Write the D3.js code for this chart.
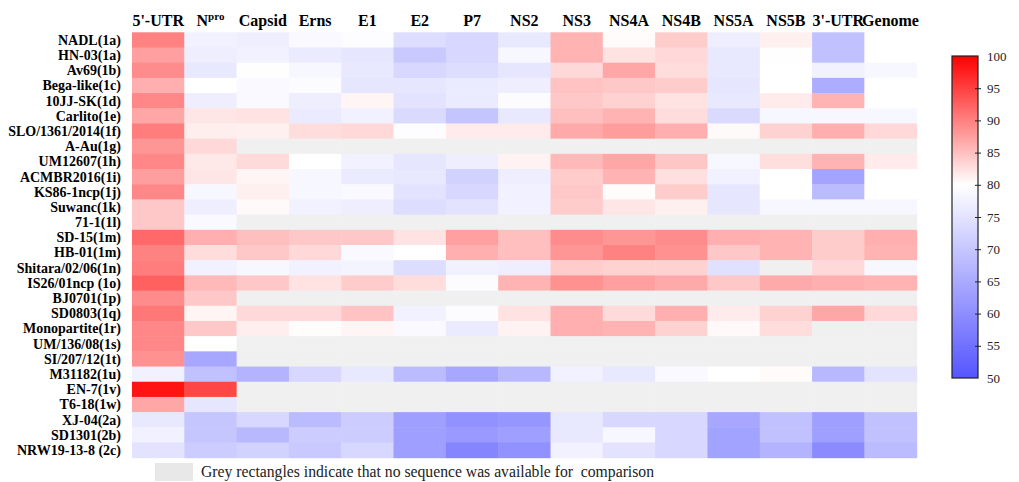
<!DOCTYPE html>
<html>
<head>
<meta charset="utf-8">
<script src="https://cdn.jsdelivr.net/npm/d3@7"></script>
<style>
  body { margin: 0; background: #fff; }
  text { font-family: "Liberation Serif", "Times New Roman", serif; }
</style>
</head>
<body>
<div id="chart"></div>
<script>
var columns = ["5'-UTR", "Npro", "Capsid", "Erns", "E1", "E2", "P7", "NS2", "NS3", "NS4A", "NS4B", "NS5A", "NS5B", "3'-UTR", "Genome"];

var strains = ["NADL(1a)", "HN-03(1a)", "Av69(1b)", "Bega-like(1c)", "10JJ-SK(1d)", "Carlito(1e)",
    "SLO/1361/2014(1f)", "A-Au(1g)", "UM12607(1h)", "ACMBR2016(1i)", "KS86-1ncp(1j)", "Suwanc(1k)",
    "71-1(1l)", "SD-15(1m)", "HB-01(1m)", "Shitara/02/06(1n)", "IS26/01ncp (1o)", "BJ0701(1p)",
    "SD0803(1q)", "Monopartite(1r)", "UM/136/08(1s)", "SI/207/12(1t)", "M31182(1u)", "EN-7(1v)",
    "T6-18(1w)", "XJ-04(2a)", "SD1301(2b)", "NRW19-13-8 (2c)"];

// identity (%) per strain, in column order; null = no sequence available
var values = [
    [89.8, 77.5, 77.0, 79.0, 79.5, 74.0, 73.0, 76.0, 86.0, 80.3, 84.0, 77.0, 81.2, 69.0, 80.0],
    [87.5, 77.0, 77.5, 76.5, 75.5, 70.5, 73.0, 78.5, 86.0, 82.3, 83.0, 76.0, 80.1, 69.0, 80.0],
    [89.0, 76.0, 79.8, 78.5, 76.0, 73.0, 74.0, 75.5, 83.0, 87.0, 82.7, 76.0, 80.0, 77.5, 78.5],
    [86.3, 80.0, 79.0, 79.5, 75.5, 75.5, 76.5, 77.0, 84.7, 84.3, 84.0, 75.5, 80.0, 65.5, 80.0],
    [89.4, 77.0, 79.0, 77.0, 80.8, 75.0, 76.5, 79.5, 84.3, 83.5, 82.3, 76.0, 81.6, 86.0, 80.0],
    [87.0, 82.0, 82.3, 76.5, 77.5, 73.5, 69.5, 76.0, 85.0, 86.0, 82.7, 73.5, 78.5, 78.5, 78.5],
    [90.2, 81.3, 81.2, 82.7, 83.0, 79.6, 81.6, 81.6, 86.7, 87.8, 86.3, 80.4, 83.5, 86.3, 83.0],
    [88.2, 83.0, null, null, null, null, null, null, null, null, null, null, null, null, null],
    [89.4, 81.8, 82.9, 80.0, 77.5, 75.5, 77.0, 81.0, 85.5, 87.0, 84.5, 78.5, 82.6, 86.0, 81.6],
    [87.6, 82.0, 80.8, 78.5, 76.5, 76.0, 72.0, 77.0, 84.0, 86.0, 82.5, 77.5, 80.0, 64.0, 80.0],
    [89.4, 78.5, 81.2, 78.5, 79.0, 75.0, 73.0, 77.5, 84.3, 80.2, 84.0, 75.5, 80.0, 68.0, 80.0],
    [84.3, 77.0, 80.5, 77.5, 77.0, 74.0, 75.0, 77.5, 84.0, 82.0, 81.2, 75.5, 78.5, 78.5, 78.5],
    [84.3, 79.0, null, null, null, null, null, null, null, null, null, null, null, null, null],
    [91.8, 86.3, 85.0, 84.3, 84.3, 82.3, 87.5, 85.0, 89.0, 88.2, 89.0, 86.3, 86.0, 84.0, 86.3],
    [89.8, 82.7, 84.3, 83.0, 79.0, 80.0, 86.3, 85.0, 88.2, 89.8, 88.6, 84.3, 86.0, 84.0, 86.0],
    [90.2, 77.5, 78.5, 77.5, 78.0, 74.0, 77.5, 77.0, 84.0, 83.5, 83.5, 74.5, null, 83.0, 78.5],
    [92.5, 85.5, 84.3, 82.3, 84.0, 82.7, 79.5, 86.0, 88.6, 87.5, 86.7, 84.3, 86.7, 86.3, 86.0],
    [89.0, 84.3, null, null, null, null, null, null, null, null, null, null, null, null, null],
    [90.6, 80.8, 83.0, 83.0, 84.7, 77.5, 79.5, 82.3, 86.3, 82.9, 86.3, 81.6, 83.5, 87.0, 83.0],
    [89.4, 84.3, 81.3, 80.2, 80.8, 79.0, 76.5, 81.0, 86.3, 86.0, 83.5, 80.5, 82.7, null, null],
    [89.4, 80.0, null, null, null, null, null, null, null, null, null, null, null, null, null],
    [88.6, 64.5, null, null, null, null, null, null, null, null, null, null, null, null, null],
    [77.5, 69.0, 66.5, 73.0, 76.0, 68.0, 64.5, 67.5, 77.5, 76.0, 79.0, 80.0, 80.3, 67.5, 75.0],
    [98.4, 94.5, null, null, null, null, null, null, null, null, null, null, null, null, null],
    [87.0, 75.5, null, null, null, null, null, null, null, null, null, null, null, null, null],
    [76.0, 70.0, 73.0, 68.0, 71.0, 63.0, 60.5, 61.5, 76.0, 73.0, 73.0, 64.5, 69.0, 63.0, 69.0],
    [77.5, 70.0, 67.5, 71.0, 71.0, 63.0, 62.0, 63.0, 76.0, 78.5, 73.0, 63.5, 69.0, 63.0, 69.0],
    [75.0, 71.0, 72.0, 70.5, 73.0, 63.0, 58.5, 60.5, 77.5, 75.0, 73.0, 63.5, 66.5, 59.5, 68.0]
];

var scaleStops = [50, 80, 100];
var scaleColors = ["#5555ff", "#ffffff", "#ff0000"];
var barTicks = [50, 55, 60, 65, 70, 75, 80, 85, 90, 95, 100];
var legendText = "Grey rectangles indicate that no sequence was available for  comparison";

var svgWidth = 1019, svgHeight = 482;
var margin = {top: 32.3, left: 132},
    width = 784.7,
    height = 425.4;

var svg = d3.select("#chart").append("svg")
    .attr("width", svgWidth)
    .attr("height", svgHeight);

var x = d3.scaleBand().domain(columns).range([0, width]);
var y = d3.scaleBand().domain(strains).range([0, height]);
var color = d3.scaleLinear().domain(scaleStops).range(scaleColors).clamp(true);

var cells = [];
values.forEach((row, i) => {
    row.forEach((v, j) => {
        cells.push({strain: strains[i], col: columns[j], v: v});
    });
});

var heat = svg.append("g")
    .attr("transform", `translate(${margin.left}, ${margin.top})`);

heat.selectAll("rect")
    .data(cells)
    .enter().append("rect")
    .attr("x", d => x(d.col))
    .attr("y", d => y(d.strain))
    .attr("width", x.bandwidth() + 0.5)
    .attr("height", y.bandwidth() + 0.5)
    .attr("fill", d => d.v == null ? "#f0f0f0" : color(d.v));

// row labels
heat.append("g").selectAll("text")
    .data(strains)
    .enter().append("text")
    .attr("x", -11)
    .attr("y", d => y(d) + y.bandwidth() / 2)
    .attr("dy", "0.35em")
    .attr("text-anchor", "end")
    .style("font-size", "14px")
    .style("font-weight", "bold")
    .text(d => d);

// column headers
var head = heat.append("g").selectAll("text")
    .data(columns)
    .enter().append("text")
    .attr("x", d => x(d) + x.bandwidth() / 2)
    .attr("y", -6)
    .attr("text-anchor", "middle")
    .style("font-size", "16px")
    .style("font-weight", "bold");

head.each(function(d) {
    var t = d3.select(this);
    if (d == "Npro") {
        t.append("tspan").text("N");
        t.append("tspan").attr("dy", -6).style("font-size", "11px").text("pro");
    } else {
        t.text(d);
    }
});

// colour bar
var barX = 952, barY = 56, barW = 26, barH = 322;
var yBar = d3.scaleLinear().domain([50, 100]).range([barH, 0]);

var grad = svg.append("defs").append("linearGradient")
    .attr("id", "bar")
    .attr("x1", 0).attr("y1", 1)
    .attr("x2", 0).attr("y2", 0);

grad.selectAll("stop")
    .data(d3.range(50, 100.1, 2.5))
    .enter().append("stop")
    .attr("offset", d => (d - 50) / 50)
    .attr("stop-color", d => color(d));

var bar = svg.append("g")
    .attr("transform", `translate(${barX}, ${barY})`);

bar.append("rect")
    .attr("width", barW)
    .attr("height", barH)
    .attr("fill", "url(#bar)")
    .attr("stroke", "#222")
    .attr("stroke-width", 1.2);

var barAxis = bar.append("g")
    .attr("transform", `translate(${barW}, 0)`)
    .call(d3.axisRight(yBar).tickValues(barTicks).tickSize(3).tickPadding(6));

barAxis.select(".domain").remove();
barAxis.selectAll(".tick line").attr("x1", -3).attr("stroke", "#222");
barAxis.selectAll(".tick")
    .filter(d => d == 50 || d == 100)
    .select("line").remove();
barAxis.selectAll(".tick text")
    .style("font-family", "'Liberation Serif', serif")
    .style("font-size", "13px")
    .attr("fill", "#222");

// legend
svg.append("rect")
    .attr("x", 155)
    .attr("y", 463)
    .attr("width", 38)
    .attr("height", 18)
    .attr("fill", "#e8e8e8");

svg.append("text")
    .attr("x", 201)
    .attr("y", 477)
    .style("font-size", "15.7px")
    .attr("fill", "#222")
    .style("white-space", "pre")
    .text(legendText);
</script>
</body>
</html>
